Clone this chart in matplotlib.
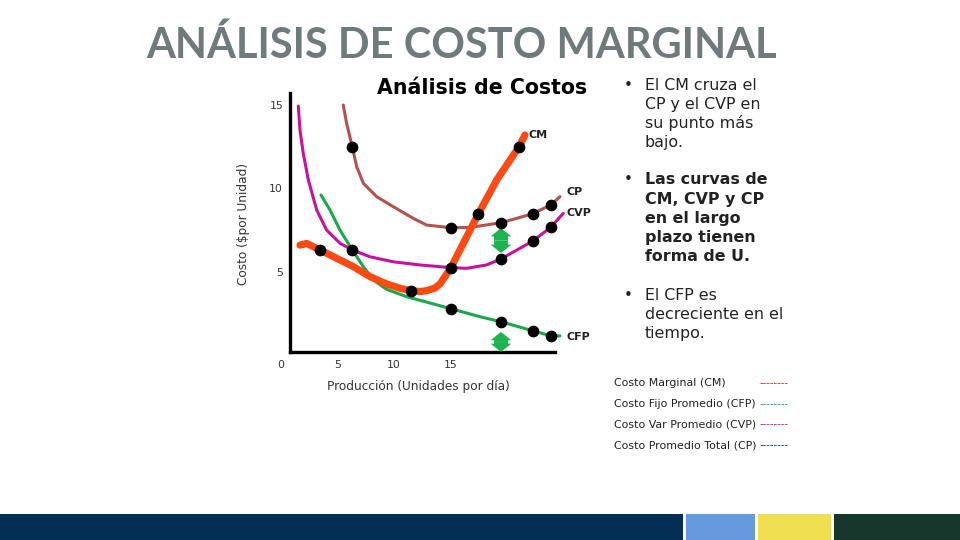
import matplotlib.pyplot as plt
from matplotlib.patches import FancyArrowPatch

# Curves (x = unidades por dia, y = $ por unidad)
cp_x = [5.51, 5.81, 6.31, 6.70, 7.29, 8.47, 9.94, 11.71, 12.89, 15.04, 16.73, 19.47, 21.15, 22.27, 23.86, 24.69]
cp_y = [14.99, 13.88, 12.49, 11.29, 10.30, 9.50, 8.90, 8.20, 7.80, 7.64, 7.66, 7.94, 8.26, 8.48, 9.00, 9.50]

cvp_x = [1.53, 1.68, 1.97, 2.42, 3.16, 4.04, 5.22, 6.31, 7.88, 9.94, 12.30, 15.04, 16.43, 18.19, 19.47, 21.15, 22.27, 23.86, 24.98]
cvp_y = [14.93, 13.49, 12.10, 10.50, 8.70, 7.50, 6.71, 6.31, 5.90, 5.60, 5.41, 5.25, 5.21, 5.41, 5.77, 6.41, 6.84, 7.66, 8.50]

cfp_x = [3.54, 4.34, 5.22, 6.31, 7.29, 8.17, 9.35, 11.12, 15.04, 17.61, 19.47, 22.27, 23.86, 24.69]
cfp_y = [9.60, 8.70, 7.50, 6.31, 5.31, 4.51, 3.95, 3.51, 2.79, 2.31, 2.01, 1.47, 1.17, 1.16]

cm_x = [1.68, 2.27, 3.45, 4.93, 6.40, 7.88, 9.35, 10.60, 11.47, 12.30, 12.89, 13.60, 14.07, 15.04, 16.13, 17.46, 19.09, 21.06, 21.59]
cm_y = [6.60, 6.70, 6.31, 5.81, 5.31, 4.71, 4.27, 4.00, 3.87, 3.82, 3.87, 4.02, 4.27, 5.25, 6.70, 8.46, 10.50, 12.49, 13.19]

# black dots
dot_x = [6.31, 15.04, 19.47, 22.27, 23.86, 21.06, 17.46, 15.04, 11.47, 3.45,
         6.31, 19.47, 22.27, 23.86, 15.04, 19.47, 22.27, 23.86]
dot_y = [12.49, 7.64, 7.94, 8.48, 9.00, 12.49, 8.46, 5.25, 3.87, 6.31,
         6.31, 5.77, 6.84, 7.66, 2.79, 2.01, 1.47, 1.17]

# green double arrows (x, y_top, y_bottom)
arrows = [(19.47, 7.62, 6.13), (19.47, 1.40, 0.20)]

curve_labels = ['CM', 'CP', 'CVP', 'CFP']
label_pos = [(21.9, 13.2), (25.3, 9.8), (25.3, 8.5), (25.3, 1.1)]

x_ticks = [0, 5, 10, 15]
y_ticks = [5, 10, 15]

bullets = [
    (['El CM cruza el', 'CP y el CVP en', 'su punto más', 'bajo.'], 'normal'),
    (['Las curvas de', 'CM, CVP y CP', 'en el largo', 'plazo tienen', 'forma de U.'], 'bold'),
    (['El CFP es', 'decreciente en el', 'tiempo.'], 'normal'),
]
bullet_top = [85, 180, 295]

legend_names = ['Costo Marginal (CM)', 'Costo Fijo Promedio (CFP)',
                'Costo Var Promedio (CVP)', 'Costo Promedio Total (CP)']
legend_colors = ['#e8202a', '#1aa050', '#c0109a', '#1a2a80']

# footer colour blocks (start px, width px)
footer_start = [0, 686, 758, 834]
footer_width = [683, 69, 73, 126]
footer_colors = ['#022f53', '#659adf', '#f0df50', '#17362c']

fig = plt.figure(figsize=(9.6, 5.4), dpi=100)
fig.patch.set_facecolor('white')

# slide layer in pixel coordinates
bg = fig.add_axes([0, 0, 1, 1])
bg.set_xlim(0, 960)
bg.set_ylim(540, 0)
bg.axis('off')

bg.text(462, 45, 'ANÁLISIS DE COSTO MARGINAL', ha='center', va='center',
        fontsize=30, fontweight='bold', color='#717a7a', family='Lato')
bg.text(482, 88, 'Análisis de Costos', ha='center', va='center',
        fontsize=14.8, fontweight='bold', color='black', family='DejaVu Sans')

for (lines, weight), top in zip(bullets, bullet_top):
    bg.text(624, top, '•', ha='left', va='center', fontsize=11, color='#222222')
    for i, line in enumerate(lines):
        bg.text(645, top + i * 19.2, line, ha='left', va='center', fontsize=11.4,
                fontweight=weight, color='#222222', family='DejaVu Sans')

for i, (name, col) in enumerate(zip(legend_names, legend_colors)):
    yy = 383 + i * 20.7
    bg.text(614, yy, name, ha='left', va='center', fontsize=7.9, color='#222222')
    bg.text(789, yy, '--------', ha='right', va='center', fontsize=7.3, color=col)

bg.bar(footer_start, 26, width=footer_width, bottom=514, align='edge',
       color=footer_colors, linewidth=0)

# chart layer
ax = fig.add_axes([281 / 960, (540 - 355.3) / 540, 274 / 960, (355.3 - 93) / 540])
ax.set_xlim(0, 24.25)
ax.set_ylim(0, 15.71)
ax.patch.set_alpha(0)
for s in ['top', 'right']:
    ax.spines[s].set_visible(False)
ax.spines['left'].set_position(('data', 0.8))
ax.spines['bottom'].set_position(('data', 0.2))
ax.spines['left'].set_bounds(0.2, 15.71)
ax.spines['bottom'].set_bounds(0.8, 24.25)
for s in ['left', 'bottom']:
    ax.spines[s].set_linewidth(2.4)
    ax.spines[s].set_color('black')

ax.set_xticks(x_ticks)
ax.set_yticks(y_ticks)
ax.tick_params(length=0, labelsize=7.8, labelcolor='#333333')
ax.tick_params(axis='y', pad=5)
ax.tick_params(axis='x', pad=6)
ax.set_xlabel('Producción (Unidades por día)', fontsize=8.7, color='#333333', labelpad=7)
ax.set_ylabel('Costo ($por Unidad)', fontsize=8.7, color='#333333', labelpad=14)

ax.plot(cp_x, cp_y, color='#b5524f', lw=2.2, clip_on=False, solid_capstyle='round')
ax.plot(cvp_x, cvp_y, color='#c8119e', lw=2.2, clip_on=False, solid_capstyle='round')
ax.plot(cfp_x, cfp_y, color='#1aa84c', lw=2.2, clip_on=False, solid_capstyle='round')
ax.plot(cm_x, cm_y, color='#fc4a14', lw=5.2, clip_on=False, solid_capstyle='round',
        solid_joinstyle='round')

ax.scatter(dot_x, dot_y, s=55, color='black', zorder=5, clip_on=False)

for x, y0, y1 in arrows:
    ym = (y0 + y1) / 2
    for yend in (y0, y1):
        ax.add_patch(FancyArrowPatch((x, ym), (x, yend),
                                     arrowstyle='simple,head_length=0.6,head_width=1.5,tail_width=1.0',
                                     mutation_scale=10, lw=0, color='#1db350',
                                     shrinkA=0, shrinkB=0, zorder=4))

for lab, (lx, ly) in zip(curve_labels, label_pos):
    ax.text(lx, ly, lab, fontsize=8, fontweight='bold', color='#222222',
            ha='left', va='center', clip_on=False)

fig.savefig('out.png', dpi=100)
